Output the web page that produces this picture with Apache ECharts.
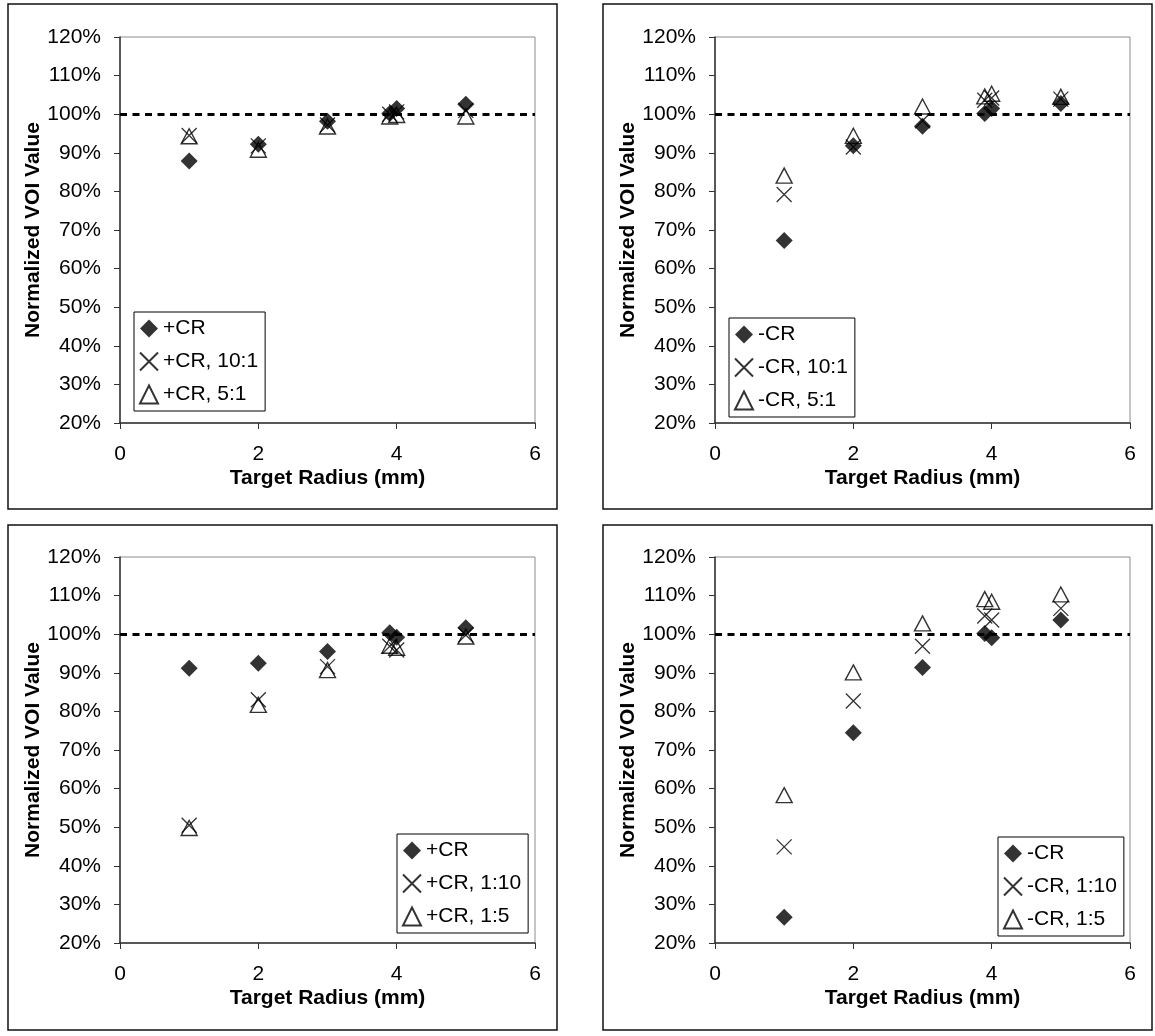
<!DOCTYPE html>
<html>
<head>
<meta charset="utf-8">
<script src="https://cdn.jsdelivr.net/npm/echarts@6/dist/echarts.min.js"></script>
<style>
  html, body { margin: 0; padding: 0; background: #fff; }
  #chart { width: 1155px; height: 1036px; }
</style>
</head>
<body>
<div id="chart"></div>
<script>
// Target radii (mm) at which each VOI was measured
const radius = [1, 2, 3, 3.9, 4, 5];

// Normalized VOI values (%), one array per series
const posCR        = [87.9, 92.2, 98.2, 100.2, 101.5, 102.6];
const posCR_10to1  = [94.5, 91.8, 97.2, 100.0, 100.6, 101.0];
const posCR_5to1   = [94.3, 90.8, 96.8, 99.4, 99.8, 99.4];

const negCR        = [67.3, 91.8, 96.9, 100.2, 101.5, 102.8];
const negCR_10to1  = [79.2, 91.5, 98.3, 103.6, 104.2, 103.9];
const negCR_5to1   = [84.1, 94.4, 102.0, 104.6, 105.3, 104.5];

const posCRb       = [91.2, 92.5, 95.5, 100.4, 99.2, 101.7];
const posCR_1to10  = [50.5, 83.0, 91.6, 96.9, 95.9, 99.8];
const posCR_1to5   = [49.8, 81.7, 90.7, 97.0, 96.5, 99.4];

const negCRb       = [26.7, 74.5, 91.4, 100.2, 99.1, 103.7];
const negCR_1to10  = [44.9, 82.7, 96.9, 104.7, 103.7, 106.7];
const negCR_1to5   = [58.3, 90.1, 102.8, 109.1, 108.4, 110.3];

// Legend names per panel
const names1 = ['+CR', '+CR, 10:1', '+CR, 5:1'];
const names2 = ['-CR', '-CR, 10:1', '-CR, 5:1'];
const names3 = ['+CR', '+CR, 1:10', '+CR, 1:5'];
const names4 = ['-CR', '-CR, 1:10', '-CR, 1:5'];

// Axis settings
const xMin = 0, xMax = 6, xStep = 2;
const yMin = 20, yMax = 120, yStep = 10;
const refLevel = 100;   // unity reference line

const FONT = '"Liberation Sans", Arial, sans-serif';

const panels = [
  { names: names1, values: [posCR, posCR_10to1, posCR_5to1],
    grid: { left: 120, top: 37 }, frame: { x: 8, y: 4 }, legend: { left: 134, top: 312 } },
  { names: names2, values: [negCR, negCR_10to1, negCR_5to1],
    grid: { left: 715, top: 37 }, frame: { x: 603, y: 4 }, legend: { left: 729, top: 318 } },
  { names: names3, values: [posCRb, posCR_1to10, posCR_1to5],
    grid: { left: 120, top: 557 }, frame: { x: 8, y: 525 }, legend: { left: 397, top: 834 } },
  { names: names4, values: [negCRb, negCR_1to10, negCR_1to5],
    grid: { left: 715, top: 557 }, frame: { x: 603, y: 525 }, legend: { left: 998, top: 837 } }
];

// Marker styles: filled diamond, thin cross, hollow triangle
const markerStyles = [
  { symbol: 'diamond', symbolSize: 17, itemStyle: { color: '#000' } },
  { symbol: 'path://M0,0L10,10M10,0L0,10', symbolSize: 15,
    itemStyle: { color: 'rgba(0,0,0,0)', borderColor: '#000', borderWidth: 1.3 } },
  { symbol: 'triangle', symbolSize: [16, 15],
    itemStyle: { color: 'rgba(0,0,0,0)', borderColor: '#000', borderWidth: 1.4 } }
];

const grids = [], xAxes = [], yAxes = [], legends = [], series = [], frames = [];

panels.forEach((p, i) => {
  grids.push({
    left: p.grid.left, top: p.grid.top, width: 415, height: 386,
    show: true, borderColor: '#8c8c8c', borderWidth: 1, backgroundColor: '#fff'
  });
  xAxes.push({
    gridIndex: i, type: 'value', min: xMin, max: xMax, interval: xStep,
    name: 'Target Radius (mm)', nameLocation: 'middle', nameGap: 45,
    nameTextStyle: { fontFamily: FONT, fontSize: 21, fontWeight: 'bold', color: '#000' },
    axisLine: { show: true, onZero: false, lineStyle: { color: '#333', width: 1.5 } },
    axisTick: { show: true, inside: false, length: 6, lineStyle: { color: '#333' } },
    axisLabel: { fontFamily: FONT, fontSize: 21, color: '#000', margin: 21 },
    splitLine: { show: false }
  });
  yAxes.push({
    gridIndex: i, type: 'value', min: yMin, max: yMax, interval: yStep,
    name: 'Normalized VOI Value', nameLocation: 'middle', nameGap: 76,
    nameTextStyle: { fontFamily: FONT, fontSize: 21, fontWeight: 'bold', color: '#000' },
    axisLine: { show: true, onZero: false, lineStyle: { color: '#333', width: 1.5 } },
    axisTick: { show: true, inside: false, length: 6, lineStyle: { color: '#333' } },
    axisLabel: { fontFamily: FONT, fontSize: 21, color: '#000', margin: 19, formatter: '{value}%' },
    splitLine: { show: false }
  });
  legends.push({
    orient: 'vertical', left: p.legend.left, top: p.legend.top,
    data: p.names,
    backgroundColor: '#fff', borderColor: '#000', borderWidth: 1,
    padding: [6, 7, 6, 5], itemGap: 12, itemWidth: 18, itemHeight: 18,
    selectedMode: false,
    textStyle: { fontFamily: FONT, fontSize: 21, color: '#000' }
  });
  p.values.forEach((vals, k) => {
    const s = Object.assign({
      type: 'scatter', name: p.names[k], xAxisIndex: i, yAxisIndex: i,
      data: radius.map((r, j) => [r, vals[j]]),
      animation: false, silent: true, z: 3 + k
    }, markerStyles[k]);
    if (k === 0) {
      s.markLine = {
        silent: true, symbol: 'none', animation: false, z: 2,
        label: { show: false },
        lineStyle: { color: '#000', width: 3, type: [7, 5.5] },
        data: [{ yAxis: refLevel }]
      };
    }
    series.push(s);
  });
  frames.push({
    type: 'rect', silent: true, z: -10,
    shape: { x: p.frame.x, y: p.frame.y, width: 549, height: 505 },
    style: { fill: 'none', stroke: '#111', lineWidth: 1.5 }
  });
});

const chart = echarts.init(document.getElementById('chart'), null, { renderer: 'canvas' });
chart.setOption({
  animation: false,
  backgroundColor: '#fff',
  graphic: frames,
  grid: grids,
  xAxis: xAxes,
  yAxis: yAxes,
  legend: legends,
  series: series
});
</script>
</body>
</html>
